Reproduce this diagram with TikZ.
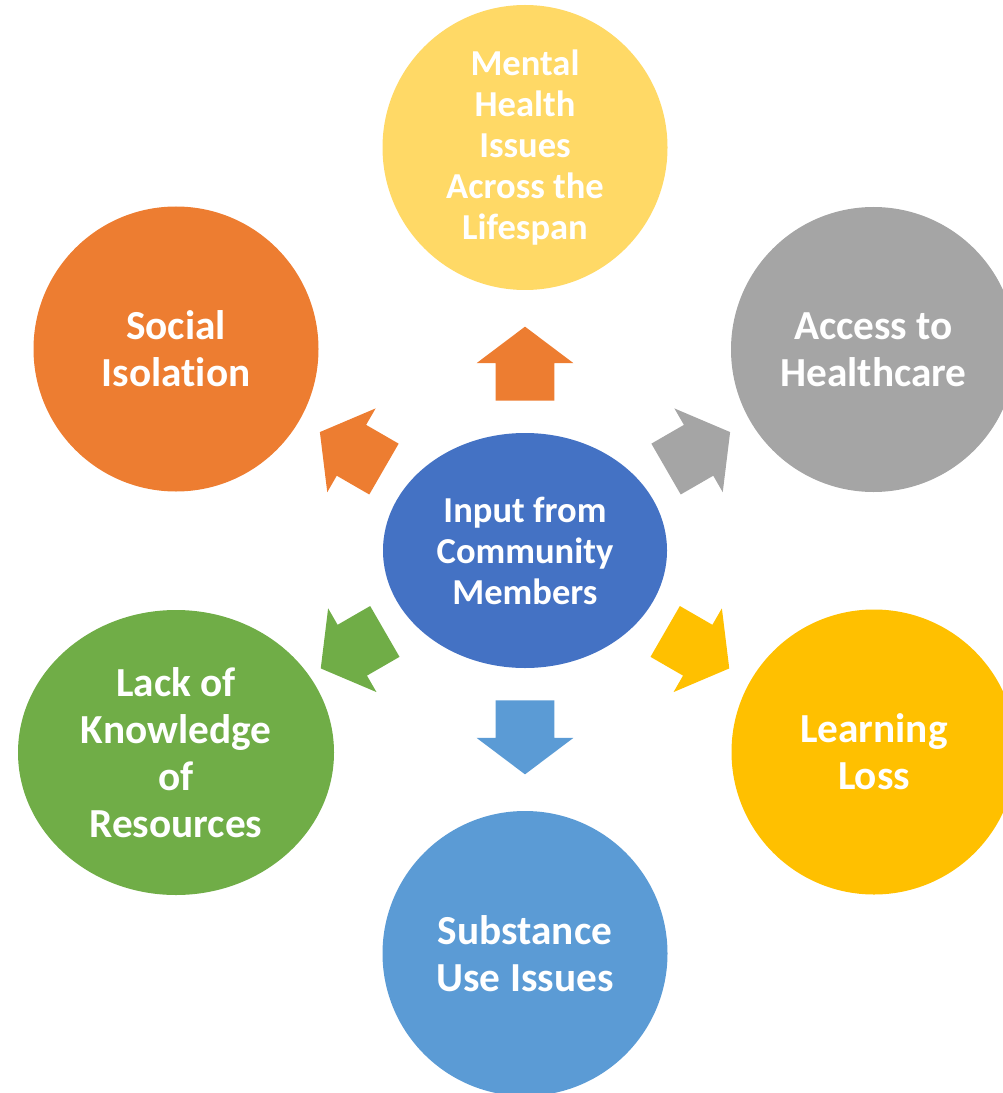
\documentclass[tikz,border=0pt]{standalone}
\usepackage{fontspec}
\setmainfont{Carlito}[Ligatures=NoCommon]
\usepackage{tikz}
\usetikzlibrary{shapes.geometric,shapes.arrows,calc}

\definecolor{inputblue}{HTML}{4472C4}
\definecolor{isoorange}{HTML}{ED7D31}
\definecolor{accessgray}{HTML}{A5A5A5}
\definecolor{mentalyellow}{HTML}{FFD966}
\definecolor{lossgold}{HTML}{FFC000}
\definecolor{knowgreen}{HTML}{70AD47}
\definecolor{usedblue}{HTML}{5B9BD5}

\tikzset{
  topic/.style={circle, minimum size=5.7cm, inner sep=0pt, text=white, align=center,
    font=\bfseries\fontsize{23.5}{26.7}\selectfont},
  smalltext/.style={font=\bfseries\fontsize{20.8}{23.3}\selectfont},
  push/.style={single arrow, anchor=tail, minimum height=1.48cm, inner xsep=0pt, inner ysep=0.58cm,
    single arrow head extend=0.38cm, single arrow tip angle=106}
}

\begin{document}
\begin{tikzpicture}
            \useasboundingbox (0,0) rectangle (20.04,-21.86);
            % centre
            \node[ellipse, minimum width=5.68cm, minimum height=4.7cm, fill=inputblue,
                  text=white, align=center, inner sep=0pt, smalltext] (input) at (10.5,-11.01)
                  {Input from\\Community\\Members};
            % topics round the centre
            \node[topic, fill=mentalyellow, smalltext] (mental) at (10.5,-2.95)
                  {Mental\\Health\\Issues\\Across the\\Lifespan};
            \node[topic, fill=isoorange] (social) at (3.52,-6.98) {Social\\Isolation};
            \node[topic, fill=accessgray] (access) at (17.47,-6.99) {Access to\\Healthcare};
            \node[topic, ellipse, minimum width=6.32cm, minimum height=5.7cm, fill=knowgreen] (lack)
                  at (3.52,-15.05) {Lack of\\Knowledge\\of\\Resources};
            \node[topic, fill=lossgold] (learning) at (17.48,-15.04) {Learning\\Loss};
            \node[topic, fill=usedblue] (substance) at (10.5,-19.07) {Substance\\Use Issues};
            % block arrows
            \node[push, fill=isoorange, rotate=90] (toMental) at ($(input)+(90:2.99)$) {};
            \node[push, fill=isoorange, rotate=150] (toSocial) at ($(input)+(150:3.25)$) {};
            \node[push, fill=accessgray, rotate=30] (toAccess) at ($(input)+(30:3.25)$) {};
            \node[push, fill=knowgreen, rotate=210] (toLack) at ($(input)+(210:3.23)$) {};
            \node[push, fill=lossgold, rotate=330] (toLearning) at ($(input)+(330:3.23)$) {};
            \node[push, fill=usedblue, rotate=270] (toSubstance) at ($(input)+(270:2.99)$) {};
        \end{tikzpicture}
\end{document}
